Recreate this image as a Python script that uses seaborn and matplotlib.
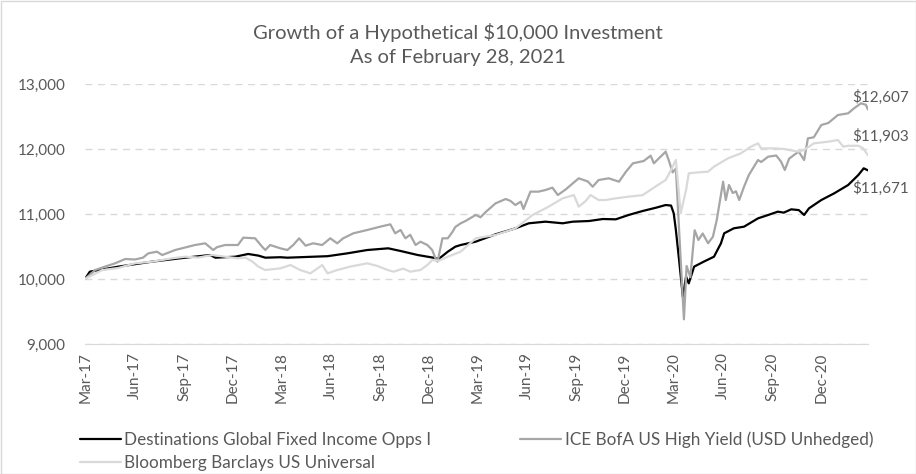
import matplotlib
matplotlib.use("Agg")
import matplotlib.pyplot as plt
import seaborn as sns
import pandas as pd
from matplotlib.patches import Rectangle

# ---------------- data ----------------
fund_dates = ["2017-02-28","2017-03-09","2017-05-01","2017-07-03","2017-09-03","2017-10-19","2017-10-29","2017-12-05",
              "2017-12-29","2018-01-17","2018-01-30","2018-02-27","2018-03-12","2018-05-26","2018-07-02","2018-08-08",
              "2018-09-16","2018-10-09","2018-11-10","2018-12-09","2018-12-19","2019-01-05","2019-01-19","2019-01-29",
              "2019-02-26","2019-04-04","2019-05-11","2019-06-05","2019-07-06","2019-08-07","2019-08-26","2019-09-25",
              "2019-10-21","2019-11-14","2019-12-08","2020-01-03","2020-01-28","2020-02-15","2020-02-25","2020-03-01",
              "2020-03-05","2020-03-11","2020-03-18","2020-03-24","2020-03-29","2020-04-08","2020-04-26","2020-05-15",
              "2020-05-28","2020-06-03","2020-06-21","2020-07-10","2020-08-05","2020-08-24","2020-09-11","2020-09-22",
              "2020-10-06","2020-10-20","2020-10-30","2020-11-08","2020-12-01","2020-12-25","2021-01-20","2021-02-08",
              "2021-02-18","2021-02-26"]
fund_values = [10000,10113,10190,10267,10328,10369,10328,10343,
               10385,10360,10328,10335,10328,10351,10395,10446,
               10472,10431,10369,10328,10308,10420,10497,10523,
               10574,10687,10779,10857,10882,10857,10882,10892,
               10923,10918,10985,11046,11097,11138,11130,11010,
               10754,10292,9728,10036,9933,10190,10267,10343,
               10549,10703,10780,10805,10933,10985,11036,11021,
               11072,11060,10985,11087,11215,11318,11446,11600,
               11703,11671]

hy_dates = ["2017-02-28","2017-03-19","2017-04-06","2017-04-25","2017-05-14","2017-06-01","2017-06-16","2017-06-26",
            "2017-07-12","2017-07-22","2017-08-15","2017-09-21","2017-10-10","2017-10-25","2017-11-01","2017-11-16",
            "2017-12-10","2017-12-20","2018-01-11","2018-01-24","2018-01-30","2018-02-08","2018-02-27","2018-03-12",
            "2018-03-23","2018-04-03","2018-04-15","2018-04-29","2018-05-16","2018-05-31","2018-06-13","2018-06-24",
            "2018-07-13","2018-08-08","2018-09-01","2018-09-20","2018-09-29","2018-10-09","2018-10-18","2018-10-27",
            "2018-11-06","2018-11-15","2018-11-28","2018-12-07","2018-12-13","2018-12-17","2018-12-26","2019-01-05",
            "2019-01-14","2019-01-19","2019-01-29","2019-02-07","2019-02-26","2019-03-07","2019-03-16","2019-04-04",
            "2019-04-23","2019-05-02","2019-05-11","2019-05-21","2019-05-26","2019-06-08","2019-06-23","2019-07-06",
            "2019-07-19","2019-07-29","2019-08-13","2019-08-26","2019-09-06","2019-09-23","2019-10-02","2019-10-13",
            "2019-11-01","2019-11-20","2019-12-03","2019-12-16","2020-01-05","2020-01-18","2020-01-24","2020-02-15",
            "2020-02-21","2020-02-28","2020-03-05","2020-03-11","2020-03-16","2020-03-20","2020-03-25","2020-04-01",
            "2020-04-09","2020-04-16","2020-04-24","2020-05-04","2020-05-13","2020-05-20","2020-06-01","2020-06-06",
            "2020-06-12","2020-06-19","2020-06-25","2020-07-01","2020-07-10","2020-07-19","2020-08-05","2020-08-11",
            "2020-08-24","2020-09-08","2020-09-17","2020-09-24","2020-10-02","2020-10-11","2020-10-20","2020-10-30",
            "2020-11-06","2020-11-17","2020-12-01","2020-12-14","2021-01-01","2021-01-20","2021-01-31","2021-02-13",
            "2021-02-22","2021-02-26"]
hy_values = [10000,10138,10190,10241,10308,10300,10328,10395,
             10420,10369,10446,10523,10549,10446,10490,10523,
             10523,10636,10626,10497,10446,10523,10472,10446,
             10523,10626,10513,10549,10523,10626,10549,10626,
             10703,10754,10805,10841,10703,10754,10626,10680,
             10523,10574,10523,10446,10318,10267,10626,10626,
             10728,10800,10857,10892,10985,10950,11026,11164,
             11231,11200,11138,11190,11077,11344,11344,11369,
             11405,11292,11380,11472,11549,11500,11420,11523,
             11549,11497,11651,11780,11815,11897,11780,11959,
             11820,11640,11700,10754,9985,9380,10200,10030,
             10750,10600,10700,10550,10650,10900,11497,11215,
             11446,11323,11350,11215,11420,11600,11830,11800,
             11882,11900,11805,11677,11850,11908,11959,11830,
             12164,12180,12369,12400,12523,12549,12626,12703,
             12680,12607]

univ_dates = ["2017-02-28","2017-04-01","2017-05-01","2017-06-01","2017-07-03","2017-08-09","2017-09-03","2017-09-27",
              "2017-10-23","2017-11-16","2017-12-10","2017-12-24","2018-01-06","2018-01-17","2018-01-30","2018-02-27",
              "2018-03-18","2018-04-05","2018-04-24","2018-05-16","2018-05-26","2018-06-13","2018-07-07","2018-08-08",
              "2018-08-27","2018-09-15","2018-09-26","2018-10-14","2018-10-27","2018-11-15","2018-11-28","2018-12-07",
              "2018-12-19","2019-01-05","2019-01-29","2019-02-26","2019-04-04","2019-05-11","2019-06-12","2019-07-12",
              "2019-08-07","2019-08-18","2019-08-28","2019-09-06","2019-09-19","2019-09-28","2019-10-13","2019-10-26",
              "2019-11-14","2019-12-08","2020-01-03","2020-01-22","2020-02-15","2020-02-25","2020-03-05","2020-03-14",
              "2020-03-24","2020-03-29","2020-04-15","2020-05-04","2020-05-15","2020-06-10","2020-07-04","2020-07-23",
              "2020-08-05","2020-08-11","2020-09-04","2020-09-22","2020-10-19","2020-10-30","2020-11-17","2020-12-14",
              "2021-01-01","2021-01-11","2021-01-20","2021-02-08","2021-02-17","2021-02-26"]
univ_values = [10000,10138,10170,10241,10267,10318,10343,10330,
               10369,10343,10318,10330,10267,10190,10138,10164,
               10215,10138,10087,10215,10087,10138,10190,10241,
               10200,10138,10113,10160,10113,10138,10215,10292,
               10280,10343,10420,10626,10677,10779,10985,11113,
               11241,11267,11292,11113,11200,11292,11215,11215,
               11241,11267,11290,11395,11523,11677,11831,11010,
               11369,11626,11640,11651,11728,11856,11933,12036,
               12087,12010,12010,12000,11960,11985,12087,12113,
               12138,12036,12050,12050,12010,11903]

series_names = ["Destinations Global Fixed Income Opps I",
                "ICE BofA US High Yield (USD Unhedged)",
                "Bloomberg Barclays US Universal"]
series_colors = ["#000000", "#a6a6a6", "#d9d9d9"]
tick_months = ["2017-03-01","2017-06-01","2017-09-01","2017-12-01","2018-03-01","2018-06-01","2018-09-01","2018-12-01",
               "2019-03-01","2019-06-01","2019-09-01","2019-12-01","2020-03-01","2020-06-01","2020-09-01","2020-12-01"]
y_ticks = [9000, 10000, 11000, 12000, 13000]

# ---------------- plot ----------------
sns.set_style("white")
plt.rcParams['font.family'] = ['Lato', 'DejaVu Sans']
TXT = "#595959"

fig = plt.figure(figsize=(9.16, 4.74), dpi=100)
ax = fig.add_axes([85/916, 1-344/474, 783/916, 260/474])

frames = [
    pd.DataFrame({"date": pd.to_datetime(fund_dates), "value": fund_values}),
    pd.DataFrame({"date": pd.to_datetime(hy_dates), "value": hy_values}),
    pd.DataFrame({"date": pd.to_datetime(univ_dates), "value": univ_values}),
]
for df, name, col in zip(frames, series_names, series_colors):
    sns.lineplot(data=df, x="date", y="value", color=col, linewidth=1.6, ax=ax,
                 label=name, estimator=None, sort=True)

ax.set_xlim(pd.Timestamp(fund_dates[0]), pd.Timestamp(fund_dates[-1]))
ax.set_ylim(y_ticks[0], y_ticks[-1])
ax.set_yticks(y_ticks)
ax.set_yticklabels([f"{v:,}" for v in y_ticks])
tm = pd.to_datetime(tick_months)
ax.set_xticks(tm)
ax.set_xticklabels([d.strftime("%b-%y") for d in tm], rotation=90)
ax.tick_params(axis='both', length=0, labelsize=11, colors=TXT)
ax.tick_params(axis='y', pad=14)
ax.tick_params(axis='x', pad=6)
ax.set_xlabel("")
ax.set_ylabel("")
for s in ["top", "right", "left"]:
    ax.spines[s].set_visible(False)
ax.spines["bottom"].set_color("#d9d9d9")
ax.yaxis.grid(True, linestyle=(0, (5, 4)), color="#d9d9d9", linewidth=1)
ax.xaxis.grid(False)

# end labels
ends = [(fund_dates[-1], fund_values[-1], -13), (hy_dates[-1], hy_values[-1], 9), (univ_dates[-1], univ_values[-1], 14)]
for d, v, dy in ends:
    ax.annotate(f"\\${v:,}", xy=(pd.Timestamp(d), v), xytext=(9, dy), textcoords="offset points",
                ha="center", va="center", fontsize=11, color=TXT, annotation_clip=False)

fig.text(0.5, 1-32/474, "Growth of a Hypothetical \\$10,000 Investment", ha="center", va="center",
         fontsize=14.5, color=TXT)
fig.text(0.5, 1-57/474, "As of February 28, 2021", ha="center", va="center", fontsize=14.5, color=TXT)

handles, labels = ax.get_legend_handles_labels()
if ax.get_legend():
    ax.get_legend().remove()
order = [0, 2, 1]
fig.legend([handles[i] for i in order], [labels[i] for i in order], loc="upper left",
           bbox_to_anchor=(80/916, 1-431/474), bbox_transform=fig.transFigure, ncol=2, frameon=False,
           fontsize=12.3, handlelength=2.4, handletextpad=0.2, columnspacing=5.2, labelspacing=0.45,
           borderpad=0, borderaxespad=0, labelcolor=TXT)

fig.patches.append(Rectangle((0.5/916, 0.5/474), 1-1/916, 1-1/474, transform=fig.transFigure,
                             fill=False, edgecolor="#d9d9d9", linewidth=1))

fig.savefig("out.png", dpi=100)
